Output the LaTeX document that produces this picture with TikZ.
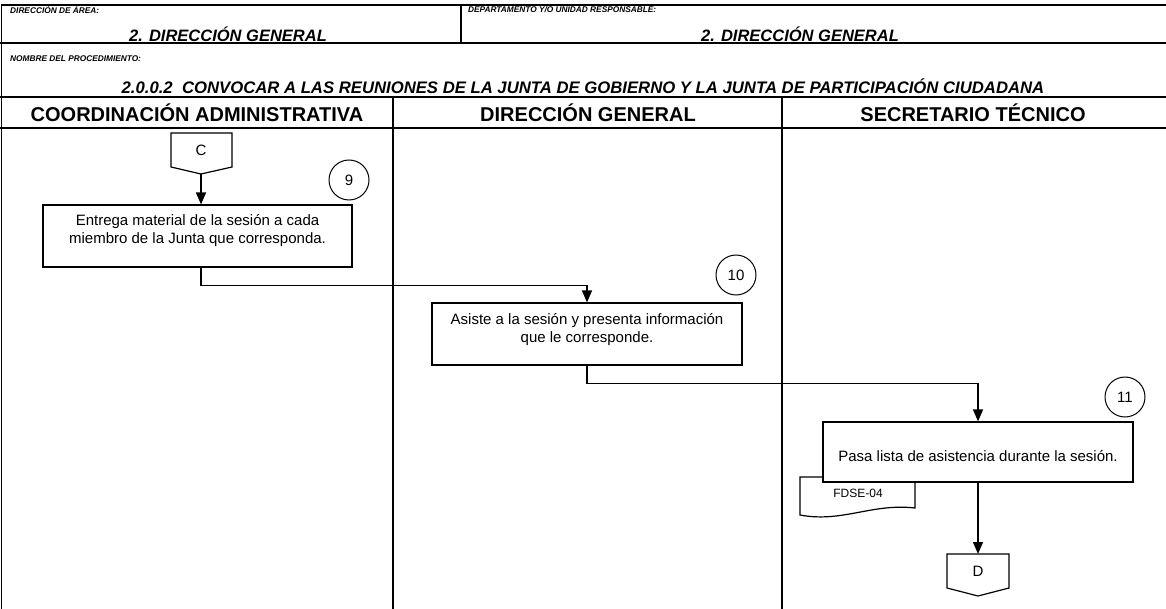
\documentclass[tikz,border=0pt]{standalone}
\usepackage{fontspec}
\setmainfont{Liberation Sans}
\usetikzlibrary{arrows.meta}
\begin{document}
\begin{tikzpicture}[x=1pt,y=-1pt,
  frame/.style={line width=1.3pt},
  lbl/.style={inner sep=0pt,font=\fontsize{8.3}{9}\selectfont\bfseries\itshape},
  big/.style={inner sep=0pt,font=\fontsize{16.5}{18}\selectfont\bfseries\itshape},
  head/.style={inner sep=0pt,font=\fontsize{20}{22}\selectfont\bfseries},
  proc/.style={draw,line width=1.2pt,fill=white,inner sep=0pt},
  txt/.style={inner sep=0pt,align=center,font=\fontsize{15}{18}\selectfont},
  num/.style={draw,circle,line width=1pt,minimum size=40pt,inner sep=0pt,font=\fontsize{15}{17}\selectfont},
  conn/.style={line width=1.2pt,line join=miter},
  arr/.style={line width=1.5pt,-{Triangle[length=12pt,width=10pt]}}
]
\useasboundingbox (0,0) rectangle (1166,609);
% frame and table
\draw[frame] (1.5,609) -- (1.5,5) -- (1166,5);
\draw[frame] (0,43) -- (1166,43);
\draw[frame] (0,97) -- (1166,97);
\draw[frame] (0,128) -- (1166,128);
\draw[frame] (461,5) -- (461,43);
\draw[frame] (393,97) -- (393,609);
\draw[frame] (782,97) -- (782,609);
% header texts
\node[lbl,anchor=west] (l1) at (10,10) {DIRECCIÓN DE ÁREA:};
\node[big] (v1) at (228,34) {2. DIRECCIÓN GENERAL};
\node[lbl,anchor=west] (l2) at (468,10) {DEPARTAMENTO Y/O UNIDAD RESPONSABLE:};
\node[big] (v2) at (800,34) {2. DIRECCIÓN GENERAL};
\node[lbl,anchor=west] (l3) at (10,59) {NOMBRE DEL PROCEDIMIENTO:};
\node[inner sep=0pt,font=\fontsize{16.7}{18}\selectfont\bfseries\itshape] (title) at (583,86.5) {2.0.0.2\ \ CONVOCAR A LAS REUNIONES DE LA JUNTA DE GOBIERNO Y LA JUNTA DE PARTICIPACIÓN CIUDADANA};
\node[head] (h1) at (197,113) {COORDINACIÓN ADMINISTRATIVA};
\node[head] (h2) at (588,113) {DIRECCIÓN GENERAL};
\node[head] (h3) at (973,113) {SECRETARIO TÉCNICO};
% connector C
\draw[conn] (171,133) -- (232,133) -- (232,167) -- (201,174) -- (171,167) -- cycle;
\node[txt] (C) at (201,150) {C};
\coordinate (Ctip) at (201,174);
% step 9
\node[proc,minimum width=309pt,minimum height=62pt] (b1) at (197.5,236) {};
\node[txt] (t1) at (197.5,231) {Entrega material de la sesión a cada\\miembro de la Junta que corresponda.};
\node[num] (n9) at (349,180) {9};
% step 10
\node[proc,minimum width=310pt,minimum height=62pt] (b2) at (587,334) {};
\node[txt] (t2) at (587,330) {Asiste a la sesión y presenta información\\que le corresponde.};
\node[num] (n10) at (736,275) {10};
% step 11
\draw[conn,fill=white] (800,477) -- (915,477) -- (915,508) .. controls (872,503) and (842,523) .. (800,515) -- cycle;
\node[inner sep=0pt,font=\fontsize{12}{14}\selectfont] (doc) at (858,493) {FDSE-04};
\node[proc,minimum width=310pt,minimum height=60pt] (b3) at (978,452) {};
\node[txt] (t3) at (978,456) {Pasa lista de asistencia durante la sesión.};
\node[num] (n11) at (1125,397) {11};
% connector D
\draw[conn] (947,554) -- (1009,554) -- (1009,588) -- (978,596) -- (947,588) -- cycle;
\node[txt] (D) at (978,571) {D};
\coordinate (Dtop) at (978,554);
% arrows
\draw[arr] (Ctip) -- (Ctip |- b1.north);
\draw[arr] (b1.south -| Ctip) -- ++(0,18) -| (b2.north);
\draw[arr] (b2.south) -- ++(0,18) -| (b3.north);
\draw[arr] (b3.south) -- (Dtop);
\end{tikzpicture}
\end{document}
